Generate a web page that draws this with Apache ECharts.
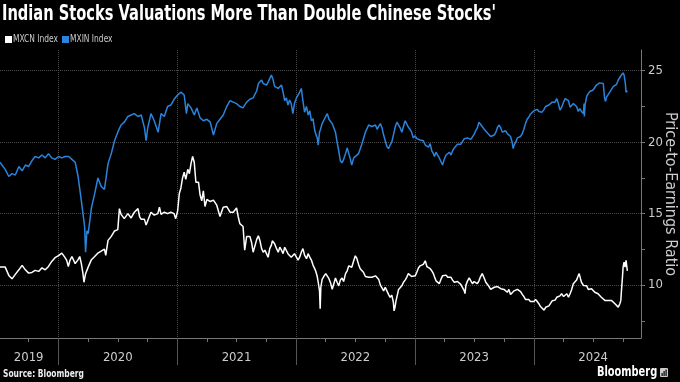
<!DOCTYPE html>
<html><head><meta charset="utf-8">
<script src="https://cdn.jsdelivr.net/npm/echarts@6/dist/echarts.min.js"></script>
<style>html,body{margin:0;padding:0;background:#000}#c{width:680px;height:382px}</style>
</head><body><div id="c"></div>
<script>
const seriesNames = ['MXCN Index', 'MXIN Index'];
const seriesColors = ['#ffffff', '#2a84dc'];
const mxcn = [['2019-07-05',11.26],['2019-07-11',11.19],['2019-07-21',11.26],['2019-08-01',10.68],['2019-08-11',10.44],['2019-08-21',10.75],['2019-09-01',11.07],['2019-09-11',11.38],['2019-09-21',11.07],['2019-10-01',10.84],['2019-10-11',10.89],['2019-10-21',11.03],['2019-11-01',10.96],['2019-11-11',11.21],['2019-11-21',11.07],['2019-12-01',11.31],['2019-12-11',11.66],['2019-12-21',11.92],['2020-01-01',12.06],['2020-01-11',12.24],['2020-01-21',11.92],['2020-01-26',11.73],['2020-01-31',11.3],['2020-02-05',11.73],['2020-02-11',12.0],['2020-02-21',11.5],['2020-03-01',11.78],['2020-03-06',12.0],['2020-03-11',11.5],['2020-03-16',10.8],['2020-03-19',10.2],['2020-03-24',10.8],['2020-04-01',11.26],['2020-04-11',11.78],['2020-04-21',12.0],['2020-05-01',12.24],['2020-05-11',12.38],['2020-05-21',12.52],['2020-05-25',12.08],['2020-06-01',13.13],['2020-06-11',13.41],['2020-06-21',13.79],['2020-07-01',13.88],['2020-07-06',15.35],['2020-07-11',14.95],['2020-07-21',14.65],['2020-08-01',15.0],['2020-08-11',14.7],['2020-08-21',15.1],['2020-09-01',15.35],['2020-09-06',14.8],['2020-09-11',14.6],['2020-09-21',14.6],['2020-09-26',14.2],['2020-10-01',14.5],['2020-10-11',15.1],['2020-10-21',14.9],['2020-11-01',15.0],['2020-11-06',15.45],['2020-11-11',14.95],['2020-11-21',15.1],['2020-12-01',15.0],['2020-12-11',15.1],['2020-12-21',15.0],['2020-12-26',14.65],['2021-01-01',15.2],['2021-01-06',16.4],['2021-01-11',16.8],['2021-01-16',17.5],['2021-01-21',17.9],['2021-01-26',17.4],['2021-02-01',18.1],['2021-02-06',17.8],['2021-02-11',18.5],['2021-02-16',19.0],['2021-02-21',18.6],['2021-02-26',17.2],['2021-03-01',17.3],['2021-03-06',17.2],['2021-03-11',16.3],['2021-03-16',15.9],['2021-03-21',16.6],['2021-03-26',15.5],['2021-04-01',16.0],['2021-04-11',15.85],['2021-04-21',15.95],['2021-05-01',15.6],['2021-05-11',14.8],['2021-05-21',15.45],['2021-06-01',15.5],['2021-06-11',15.1],['2021-06-21',15.1],['2021-07-01',15.4],['2021-07-06',14.8],['2021-07-11',14.3],['2021-07-21',14.1],['2021-07-26',12.45],['2021-08-01',13.4],['2021-08-11',13.4],['2021-08-16',13.0],['2021-08-21',12.3],['2021-09-01',13.2],['2021-09-06',13.45],['2021-09-11',13.1],['2021-09-16',12.55],['2021-09-21',12.3],['2021-09-26',12.45],['2021-10-01',12.2],['2021-10-06',11.95],['2021-10-11',12.55],['2021-10-16',12.8],['2021-10-19',13.1],['2021-10-26',12.9],['2021-11-01',12.55],['2021-11-06',12.3],['2021-11-11',12.65],['2021-11-16',12.45],['2021-11-21',12.2],['2021-11-26',12.65],['2021-12-01',12.55],['2021-12-06',12.2],['2021-12-11',12.3],['2021-12-16',11.95],['2021-12-21',11.85],['2021-12-26',12.2],['2022-01-01',12.1],['2022-01-06',11.75],['2022-01-11',11.95],['2022-01-16',12.3],['2022-01-21',12.55],['2022-01-26',12.1],['2022-02-01',11.85],['2022-02-06',12.2],['2022-02-11',11.95],['2022-02-16',11.75],['2022-02-21',11.4],['2022-02-26',11.15],['2022-03-01',11.0],['2022-03-06',10.6],['2022-03-09',10.2],['2022-03-13',9.6],['2022-03-15',8.35],['2022-03-17',9.85],['2022-03-21',10.4],['2022-03-26',10.6],['2022-04-01',10.8],['2022-04-06',10.85],['2022-04-11',10.45],['2022-04-16',10.15],['2022-04-21',9.7],['2022-04-26',10.1],['2022-05-01',10.5],['2022-05-06',10.2],['2022-05-11',9.95],['2022-05-16',10.35],['2022-05-21',10.5],['2022-05-26',10.25],['2022-06-01',10.8],['2022-06-06',11.0],['2022-06-11',11.35],['2022-06-16',11.45],['2022-06-20',11.25],['2022-06-26',11.7],['2022-07-01',12.05],['2022-07-06',11.85],['2022-07-11',11.45],['2022-07-16',11.14],['2022-07-21',11.14],['2022-07-26',10.9],['2022-08-01',10.6],['2022-08-11',10.55],['2022-08-21',10.55],['2022-09-01',10.65],['2022-09-06',10.6],['2022-09-11',10.4],['2022-09-16',10.0],['2022-09-21',9.8],['2022-09-26',9.6],['2022-10-01',9.85],['2022-10-06',9.6],['2022-10-11',9.35],['2022-10-16',9.15],['2022-10-21',9.3],['2022-10-26',8.8],['2022-10-28',8.2],['2022-10-31',8.45],['2022-11-03',8.9],['2022-11-06',9.2],['2022-11-11',9.7],['2022-11-16',9.7],['2022-11-21',9.95],['2022-11-26',10.2],['2022-12-01',10.35],['2022-12-06',10.55],['2022-12-11',10.8],['2022-12-16',10.9],['2022-12-21',10.6],['2022-12-26',10.5],['2023-01-01',10.65],['2023-01-06',10.9],['2023-01-11',11.2],['2023-01-16',11.35],['2023-01-21',11.3],['2023-01-26',11.45],['2023-02-01',11.7],['2023-02-06',11.3],['2023-02-11',11.4],['2023-02-16',11.15],['2023-02-21',11.0],['2023-02-26',10.8],['2023-03-01',10.6],['2023-03-06',10.3],['2023-03-11',10.33],['2023-03-16',10.1],['2023-03-21',10.4],['2023-03-26',10.65],['2023-04-01',10.6],['2023-04-06',10.7],['2023-04-11',10.55],['2023-04-16',10.68],['2023-04-21',10.55],['2023-04-26',10.35],['2023-05-01',10.2],['2023-05-11',10.25],['2023-05-21',10.05],['2023-06-01',9.6],['2023-06-03',9.4],['2023-06-06',10.0],['2023-06-11',10.3],['2023-06-16',10.5],['2023-06-21',10.3],['2023-06-26',10.1],['2023-07-01',10.25],['2023-07-06',10.25],['2023-07-11',10.1],['2023-07-16',10.3],['2023-07-21',10.6],['2023-07-26',10.8],['2023-08-01',10.5],['2023-08-06',10.2],['2023-08-11',10.1],['2023-08-16',9.9],['2023-08-21',9.7],['2023-09-01',9.85],['2023-09-06',9.95],['2023-09-11',9.9],['2023-09-21',9.75],['2023-10-01',9.7],['2023-10-06',9.8],['2023-10-11',9.5],['2023-10-16',9.7],['2023-10-21',9.35],['2023-10-26',9.3],['2023-11-01',9.6],['2023-11-06',9.65],['2023-11-11',9.7],['2023-11-16',9.6],['2023-11-21',9.55],['2023-11-26',9.35],['2023-12-01',9.2],['2023-12-06',9.0],['2023-12-11',8.95],['2023-12-16',9.0],['2023-12-21',8.85],['2023-12-26',8.9],['2024-01-01',8.85],['2024-01-06',9.0],['2024-01-11',8.85],['2024-01-16',8.7],['2024-01-21',8.5],['2024-01-26',8.55],['2024-02-01',8.25],['2024-02-06',8.45],['2024-02-11',8.35],['2024-02-16',8.55],['2024-02-21',8.65],['2024-02-26',8.9],['2024-03-01',9.0],['2024-03-06',8.95],['2024-03-11',9.15],['2024-03-16',9.05],['2024-03-21',9.25],['2024-03-26',9.4],['2024-04-01',9.2],['2024-04-06',9.3],['2024-04-11',9.4],['2024-04-16',9.15],['2024-04-21',9.4],['2024-04-26',9.7],['2024-05-01',10.1],['2024-05-06',10.2],['2024-05-11',10.35],['2024-05-16',10.65],['2024-05-19',10.8],['2024-05-23',10.45],['2024-05-26',10.2],['2024-06-01',9.98],['2024-06-06',9.85],['2024-06-11',9.95],['2024-06-16',9.7],['2024-06-21',9.6],['2024-06-26',9.75],['2024-07-01',9.63],['2024-07-06',9.5],['2024-07-11',9.63],['2024-07-16',9.4],['2024-07-21',9.28],['2024-07-26',9.15],['2024-08-01',9.05],['2024-08-06',8.93],['2024-08-11',9.05],['2024-08-16',8.93],['2024-08-21',8.8],['2024-08-26',8.93],['2024-09-01',8.8],['2024-09-06',8.7],['2024-09-11',8.57],['2024-09-16',8.46],['2024-09-21',8.7],['2024-09-24',8.93],['2024-09-26',9.63],['2024-09-29',10.56],['2024-10-01',11.26],['2024-10-04',11.6],['2024-10-07',11.26],['2024-10-10',11.73],['2024-10-14',11.0]];
const mxin = [['2019-07-05',18.6],['2019-07-11',18.4],['2019-07-21',18.1],['2019-08-01',17.6],['2019-08-11',17.8],['2019-08-21',17.7],['2019-09-01',18.3],['2019-09-11',18.0],['2019-09-21',18.4],['2019-10-01',18.3],['2019-10-11',18.7],['2019-10-21',19.0],['2019-11-01',18.9],['2019-11-11',19.1],['2019-11-21',18.9],['2019-12-01',19.2],['2019-12-11',18.9],['2019-12-21',18.8],['2020-01-01',19.0],['2020-01-11',18.9],['2020-01-21',19.0],['2020-02-01',19.0],['2020-02-11',18.8],['2020-02-21',18.6],['2020-03-01',17.6],['2020-03-11',15.9],['2020-03-16',15.0],['2020-03-21',14.1],['2020-03-24',12.3],['2020-03-28',13.8],['2020-04-01',13.6],['2020-04-11',15.4],['2020-04-21',16.4],['2020-05-01',17.5],['2020-05-11',16.9],['2020-05-21',16.7],['2020-06-01',18.5],['2020-06-11',19.2],['2020-06-21',20.1],['2020-07-01',20.7],['2020-07-11',21.2],['2020-07-21',21.4],['2020-08-01',21.8],['2020-08-11',21.9],['2020-08-21',22.0],['2020-09-01',21.8],['2020-09-11',21.9],['2020-09-21',21.0],['2020-09-26',20.1],['2020-10-01',21.0],['2020-10-11',22.0],['2020-10-21',21.5],['2020-11-02',20.7],['2020-11-11',22.0],['2020-11-21',21.8],['2020-12-01',22.5],['2020-12-11',22.6],['2020-12-21',23.0],['2021-01-01',23.3],['2021-01-11',23.5],['2021-01-21',23.3],['2021-01-28',22.0],['2021-02-01',22.7],['2021-02-11',22.4],['2021-02-21',21.9],['2021-03-01',22.4],['2021-03-11',21.7],['2021-03-21',21.5],['2021-04-01',21.6],['2021-04-11',21.4],['2021-04-21',20.5],['2021-05-01',21.3],['2021-05-11',21.6],['2021-05-21',21.9],['2021-06-01',22.5],['2021-06-11',22.9],['2021-06-21',22.8],['2021-07-01',22.7],['2021-07-11',22.5],['2021-07-21',22.4],['2021-08-01',22.8],['2021-08-11',23.0],['2021-08-21',23.1],['2021-09-01',23.6],['2021-09-06',24.1],['2021-09-11',24.0],['2021-09-16',24.35],['2021-09-21',24.1],['2021-10-01',24.0],['2021-10-06',24.2],['2021-10-11',24.45],['2021-10-16',24.7],['2021-10-19',24.8],['2021-10-21',24.4],['2021-10-26',23.9],['2021-11-01',23.9],['2021-11-06',23.76],['2021-11-11',23.7],['2021-11-16',24.0],['2021-11-21',23.5],['2021-11-26',22.9],['2021-12-01',23.1],['2021-12-06',22.6],['2021-12-11',22.95],['2021-12-16',22.7],['2021-12-21',22.0],['2021-12-26',22.7],['2022-01-01',23.1],['2022-01-06',23.3],['2022-01-11',23.5],['2022-01-16',23.76],['2022-01-21',22.9],['2022-01-26',22.1],['2022-02-01',22.5],['2022-02-06',21.9],['2022-02-11',22.2],['2022-02-16',21.5],['2022-02-21',21.65],['2022-02-26',20.85],['2022-03-01',20.6],['2022-03-06',20.3],['2022-03-09',19.8],['2022-03-13',20.7],['2022-03-16',20.9],['2022-03-21',21.3],['2022-03-26',21.3],['2022-04-01',21.8],['2022-04-06',22.0],['2022-04-11',21.6],['2022-04-21',21.3],['2022-05-01',20.7],['2022-05-06',20.0],['2022-05-11',19.4],['2022-05-16',18.7],['2022-05-21',18.55],['2022-05-26',18.8],['2022-06-01',19.2],['2022-06-06',19.6],['2022-06-11',19.5],['2022-06-16',18.8],['2022-06-20',18.4],['2022-06-26',18.9],['2022-07-01',18.95],['2022-07-11',19.2],['2022-07-21',19.85],['2022-08-01',20.7],['2022-08-11',21.2],['2022-08-21',21.1],['2022-09-01',21.2],['2022-09-06',20.9],['2022-09-11',21.1],['2022-09-16',21.3],['2022-09-21',21.0],['2022-09-26',20.5],['2022-10-01',20.1],['2022-10-06',19.7],['2022-10-11',19.55],['2022-10-16',19.8],['2022-10-21',20.0],['2022-10-26',20.5],['2022-11-01',21.1],['2022-11-06',21.4],['2022-11-11',21.2],['2022-11-16',21.0],['2022-11-21',20.7],['2022-11-26',21.1],['2022-12-01',21.5],['2022-12-06',21.4],['2022-12-11',21.05],['2022-12-16',20.9],['2022-12-21',20.7],['2022-12-26',20.3],['2023-01-01',20.45],['2023-01-06',20.25],['2023-01-11',20.35],['2023-01-16',20.15],['2023-01-21',20.25],['2023-01-26',20.1],['2023-02-01',19.8],['2023-02-06',19.9],['2023-02-11',19.65],['2023-02-16',19.9],['2023-02-21',19.4],['2023-02-26',19.2],['2023-03-01',19.0],['2023-03-06',19.3],['2023-03-11',19.1],['2023-03-16',18.9],['2023-03-21',18.65],['2023-03-26',18.4],['2023-04-01',18.85],['2023-04-06',19.1],['2023-04-11',19.0],['2023-04-16',19.3],['2023-04-21',19.1],['2023-04-26',19.4],['2023-05-01',19.6],['2023-05-11',19.85],['2023-05-21',19.85],['2023-06-01',20.25],['2023-06-11',20.3],['2023-06-21',20.2],['2023-07-01',20.55],['2023-07-06',20.8],['2023-07-11',21.0],['2023-07-16',21.4],['2023-07-21',21.3],['2023-07-26',21.1],['2023-08-01',20.9],['2023-08-11',20.65],['2023-08-21',20.4],['2023-09-01',20.5],['2023-09-06',20.7],['2023-09-11',21.05],['2023-09-16',21.2],['2023-09-21',21.0],['2023-09-26',20.7],['2023-10-01',20.7],['2023-10-06',20.8],['2023-10-11',20.6],['2023-10-16',20.65],['2023-10-21',20.4],['2023-10-26',20.0],['2023-10-29',19.55],['2023-11-01',19.8],['2023-11-06',20.0],['2023-11-11',20.3],['2023-11-16',20.3],['2023-11-21',20.4],['2023-11-26',20.6],['2023-12-01',20.9],['2023-12-06',21.3],['2023-12-11',21.6],['2023-12-16',21.75],['2023-12-21',21.95],['2023-12-26',22.05],['2024-01-01',22.2],['2024-01-06',22.2],['2024-01-11',22.3],['2024-01-16',22.15],['2024-01-21',22.2],['2024-01-26',22.1],['2024-02-01',22.3],['2024-02-06',22.5],['2024-02-11',22.4],['2024-02-16',22.6],['2024-02-21',22.7],['2024-02-26',22.8],['2024-03-01',22.9],['2024-03-06',22.8],['2024-03-11',23.05],['2024-03-16',22.7],['2024-03-21',22.25],['2024-03-26',22.45],['2024-04-01',22.8],['2024-04-06',23.05],['2024-04-11',23.15],['2024-04-16',22.9],['2024-04-21',22.45],['2024-04-26',22.55],['2024-05-01',22.7],['2024-05-06',22.8],['2024-05-11',22.5],['2024-05-16',22.15],['2024-05-21',22.35],['2024-05-26',22.15],['2024-06-01',22.0],['2024-06-03',22.7],['2024-06-04',21.8],['2024-06-06',22.6],['2024-06-11',23.2],['2024-06-16',23.4],['2024-06-21',23.55],['2024-06-26',23.65],['2024-07-01',23.65],['2024-07-06',23.76],['2024-07-11',24.0],['2024-07-16',24.1],['2024-07-21',24.15],['2024-07-26',24.2],['2024-08-01',24.1],['2024-08-05',23.1],['2024-08-08',22.85],['2024-08-11',23.15],['2024-08-16',23.2],['2024-08-21',23.5],['2024-08-26',23.6],['2024-09-01',23.9],['2024-09-06',24.0],['2024-09-11',24.05],['2024-09-14',24.0],['2024-09-16',24.35],['2024-09-21',24.25],['2024-09-26',24.7],['2024-10-01',24.85],['2024-10-04',24.7],['2024-10-08',24.1],['2024-10-10',23.5],['2024-10-12',23.4],['2024-10-14',23.6]];
const yearLabelDates = ['2019-10-01','2020-07-01','2021-07-01','2022-07-01','2023-07-01','2024-07-01'];
const yearStartDates = ['2020-01-01','2021-01-01','2022-01-01','2023-01-01','2024-01-01'];
const quarterDates = ['2019-10-01','2020-04-01','2020-07-01','2020-10-01','2021-04-01','2021-07-01','2021-10-01','2022-04-01','2022-07-01','2022-10-01','2023-04-01','2023-07-01','2023-10-01','2024-04-01','2024-07-01','2024-10-01'];
const yMajorTicks = [10, 15, 20, 25];
const yAllTicks = [7.5, 10, 12.5, 15, 17.5, 20, 22.5, 25];
const titleText = "Indian Stocks Valuations More Than Double Chinese Stocks'";
const yAxisName = 'Price-to-Earnings Ratio';
const sourceText = 'Source: Bloomberg';
const brandText = 'Bloomberg';
const xStart = '2019-07-05', xEnd = '2024-11-25';

const ts = d => new Date(d + 'T00:00:00Z').getTime();
const toPts = arr => arr.map(p => [ts(p[0]), p[1]]);
const NARROW = "'Liberation Sans Narrow','DejaVu Sans Condensed',sans-serif";
const Y_MIN = 6.3, Y_MAX = 26.45;
const SQ = 0.76; // horizontal squeeze to mimic the condensed Bloomberg face

const legendGraphics = [];
[[5, 13], [62, 70]].forEach((pos, i) => {
  legendGraphics.push({ type: 'rect', shape: { x: pos[0], y: 36, width: 7, height: 7 }, style: { fill: seriesColors[i] } });
  legendGraphics.push({ type: 'text', x: pos[1], y: 39.5, scaleX: SQ,
    style: { text: seriesNames[i], fill: '#ccc', fontSize: 11, fontFamily: NARROW, verticalAlign: 'middle' } });
});

const chart = echarts.init(document.getElementById('c'));
chart.setOption({
  backgroundColor: '#000',
  animation: false,
  grid: { left: 0, right: 39, top: 50, bottom: 44, containLabel: false, outerBoundsMode: 'none' },
  xAxis: [
    { type: 'value', min: ts(xStart), max: ts(xEnd),
      axisLine: { show: true, lineStyle: { color: '#777', width: 1 } },
      axisTick: { show: true, customValues: quarterDates.map(ts), length: 4, lineStyle: { color: '#777' } },
      axisLabel: { show: true, customValues: yearLabelDates.map(ts), margin: 13, color: '#ccc', fontSize: 13, fontFamily: NARROW,
        formatter: v => String(new Date(v).getUTCFullYear()) },
      splitLine: { show: false } },
    { type: 'value', min: ts(xStart), max: ts(xEnd), position: 'bottom',
      axisLine: { show: false },
      axisTick: { show: true, customValues: yearStartDates.map(ts), length: 27, lineStyle: { color: '#555' } },
      axisLabel: { show: false },
      splitLine: { show: true, lineStyle: { color: '#4a4a4a', type: 'dotted', width: 1 } } }
  ],
  yAxis: [
    { type: 'value', position: 'right', min: Y_MIN, max: Y_MAX,
      name: yAxisName, nameLocation: 'middle', nameRotate: -90, nameGap: 21, nameMoveOverlap: false,
      nameTextStyle: { color: '#ccc', fontSize: 16, fontFamily: NARROW },
      axisLine: { show: true, lineStyle: { color: '#777', width: 1 } },
      axisTick: { show: true, customValues: yAllTicks, length: 4, lineStyle: { color: '#777' } },
      axisLabel: { show: true, customValues: yMajorTicks, margin: 7, color: '#ccc', fontSize: 13, fontFamily: NARROW },
      splitLine: { show: false } },
    { type: 'value', position: 'right', min: Y_MIN, max: Y_MAX,
      axisLine: { show: false },
      axisTick: { show: true, customValues: yMajorTicks, length: 4, lineStyle: { color: '#777' } },
      axisLabel: { show: false },
      splitLine: { show: true, lineStyle: { color: '#4a4a4a', type: 'dotted', width: 1 } } }
  ],
  series: [
    { name: seriesNames[0], type: 'line', data: toPts(mxcn), showSymbol: false, symbol: 'none',
      lineStyle: { color: seriesColors[0], width: 1.5 }, itemStyle: { color: seriesColors[0] } },
    { name: seriesNames[1], type: 'line', data: toPts(mxin), showSymbol: false, symbol: 'none',
      lineStyle: { color: seriesColors[1], width: 1.5 }, itemStyle: { color: seriesColors[1] } }
  ],
  graphic: [
    { type: 'text', x: 2, y: 4, scaleX: 0.775,
      style: { text: titleText, fill: '#fff', fontSize: 21, fontWeight: 'bold', fontFamily: NARROW } },
    ...legendGraphics,
    { type: 'text', x: 3, y: 369, scaleX: SQ,
      style: { text: sourceText, fill: '#eee', fontSize: 11, fontWeight: 'bold', fontFamily: NARROW } },
    { type: 'text', x: 597, y: 365, scaleX: 0.78,
      style: { text: brandText, fill: '#fff', fontSize: 14, fontWeight: 'bold', fontFamily: NARROW } },
    { type: 'group', x: 660, y: 368, children: [
      { type: 'rect', shape: { x: 0, y: 0, width: 8, height: 9, r: 1 }, style: { fill: '#ccc' } },
      { type: 'rect', shape: { x: 1.5, y: 5, width: 1.2, height: 3 }, style: { fill: '#000' } },
      { type: 'rect', shape: { x: 3.5, y: 3, width: 1.2, height: 5 }, style: { fill: '#000' } },
      { type: 'rect', shape: { x: 5.5, y: 1.5, width: 1.2, height: 6.5 }, style: { fill: '#000' } }
    ] }
  ]
});
</script></body></html>
